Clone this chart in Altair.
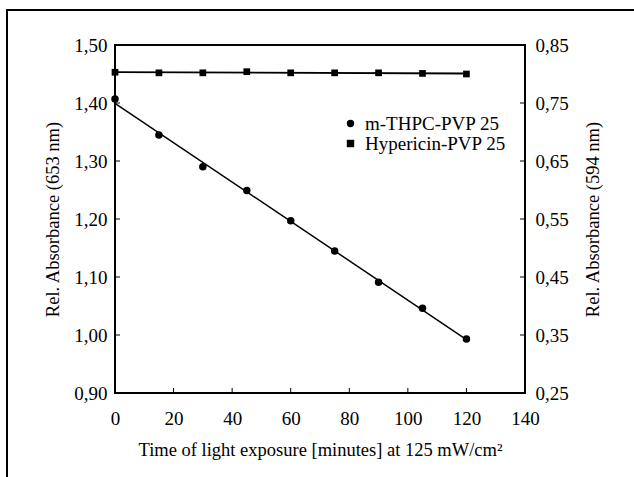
import altair as alt
import pandas as pd

times = [0, 15, 30, 45, 60, 75, 90, 105, 120]
mthpc = [1.407, 1.345, 1.290, 1.249, 1.197, 1.145, 1.091, 1.046, 0.993]
hypericin = [0.803, 0.802, 0.802, 0.804, 0.802, 0.802, 0.802, 0.801, 0.800]
series_names = ["m-THPC-PVP 25", "Hypericin-PVP 25"]
x_ticks = [0, 20, 40, 60, 80, 100, 120, 140]
left_ticks = [0.90, 1.00, 1.10, 1.20, 1.30, 1.40, 1.50]
right_ticks = [0.25, 0.35, 0.45, 0.55, 0.65, 0.75, 0.85]

W, H = 410, 348
FONT = "Liberation Serif"

dfA = pd.DataFrame({"t": times, "v": mthpc, "series": series_names[0]})
dfB = pd.DataFrame({"t": times, "v": hypericin, "series": series_names[1]})
dfX = pd.DataFrame({"t": x_ticks[1:-1]})
dfL = pd.DataFrame({"v": left_ticks})
dfR = pd.DataFrame({"v": right_ticks})
one = pd.DataFrame({"a": [0]})

comma = "replace(format(datum.value, '.2f'), '.', ',')"

xenc = alt.X(
    "t:Q",
    scale=alt.Scale(domain=[0, 140], nice=False),
    axis=alt.Axis(
        values=x_ticks,
        title="Time of light exposure [minutes] at 125 mW/cm²",
        ticks=False, domain=False, grid=False, labelFlush=False,
        labelPadding=16, titlePadding=12,
    ),
)
yA = alt.Y(
    "v:Q",
    scale=alt.Scale(domain=[0.9, 1.5], nice=False, zero=False),
    axis=alt.Axis(
        values=left_ticks, labelExpr=comma, orient="left",
        title="Rel. Absorbance (653 nm)",
        ticks=False, domain=False, grid=False, labelFlush=False,
        labelPadding=8, titlePadding=11,
    ),
)
yB = alt.Y(
    "v:Q",
    scale=alt.Scale(domain=[0.25, 0.85], nice=False, zero=False),
    axis=alt.Axis(
        values=right_ticks, labelExpr=comma, orient="right",
        title="Rel. Absorbance (594 nm)", titleAngle=270,
        ticks=False, domain=False, grid=False, labelFlush=False,
        labelPadding=10, titlePadding=34,
    ),
)
shape = alt.Shape(
    "series:N",
    scale=alt.Scale(domain=series_names, range=["circle", "square"]),
    legend=alt.Legend(
        title=None, orient="none", legendX=226, legendY=69,
        padding=0, labelOffset=5, symbolSize=55, symbolStrokeWidth=0,
        symbolFillColor="black", rowPadding=0,
    ),
)

lineA = alt.Chart(dfA).transform_regression("t", "v").mark_line(
    color="black", strokeWidth=1.5).encode(x=xenc, y=yA)
ptsA = alt.Chart(dfA).mark_point(filled=True, color="black", size=56, opacity=1).encode(
    x=xenc, y=yA, shape=shape)
ticksL = alt.Chart(dfL).mark_rule(color="black", strokeWidth=1).encode(
    x=alt.value(0), x2=alt.value(5), y=yA)
ticksX = alt.Chart(dfX).mark_rule(color="black", strokeWidth=1).encode(
    x=xenc, y=alt.value(H - 5), y2=alt.value(H))
frameL = alt.Chart(one).mark_rule(color="black", strokeWidth=2).encode(
    x=alt.value(-108), y=alt.value(-35), y2=alt.value(H + 100))
frameT = alt.Chart(one).mark_rule(color="black", strokeWidth=2).encode(
    x=alt.value(-109), x2=alt.value(W + 120), y=alt.value(-35))

lineB = alt.Chart(dfB).transform_regression("t", "v").mark_line(
    color="black", strokeWidth=1.8).encode(x=xenc, y=yB)
ptsB = alt.Chart(dfB).mark_point(filled=True, color="black", size=45, opacity=1).encode(
    x=xenc, y=yB, shape=shape)
ticksR = alt.Chart(dfR).mark_rule(color="black", strokeWidth=1).encode(
    x=alt.value(W - 5), x2=alt.value(W), y=yB)

groupA = alt.layer(frameL, frameT, ticksL, ticksX, lineA, ptsA)
groupB = alt.layer(ticksR, lineB, ptsB)

chart = (
    alt.layer(groupA, groupB)
    .resolve_scale(y="independent")
    .properties(
        width=W, height=H, autosize="none",
        padding={"left": 115, "top": 45, "right": 109, "bottom": 84},
        background="white",
    )
    .configure_view(stroke="black", strokeWidth=2)
    .configure_axis(
        labelFont=FONT, titleFont=FONT, labelFontSize=19, titleFontSize=18.5,
        titleFontWeight="normal", labelColor="black", titleColor="black",
    )
    .configure_legend(labelFont=FONT, labelFontSize=19, labelColor="black")
)

chart.save("out.html", embed_options={"renderer": "svg", "actions": False})
